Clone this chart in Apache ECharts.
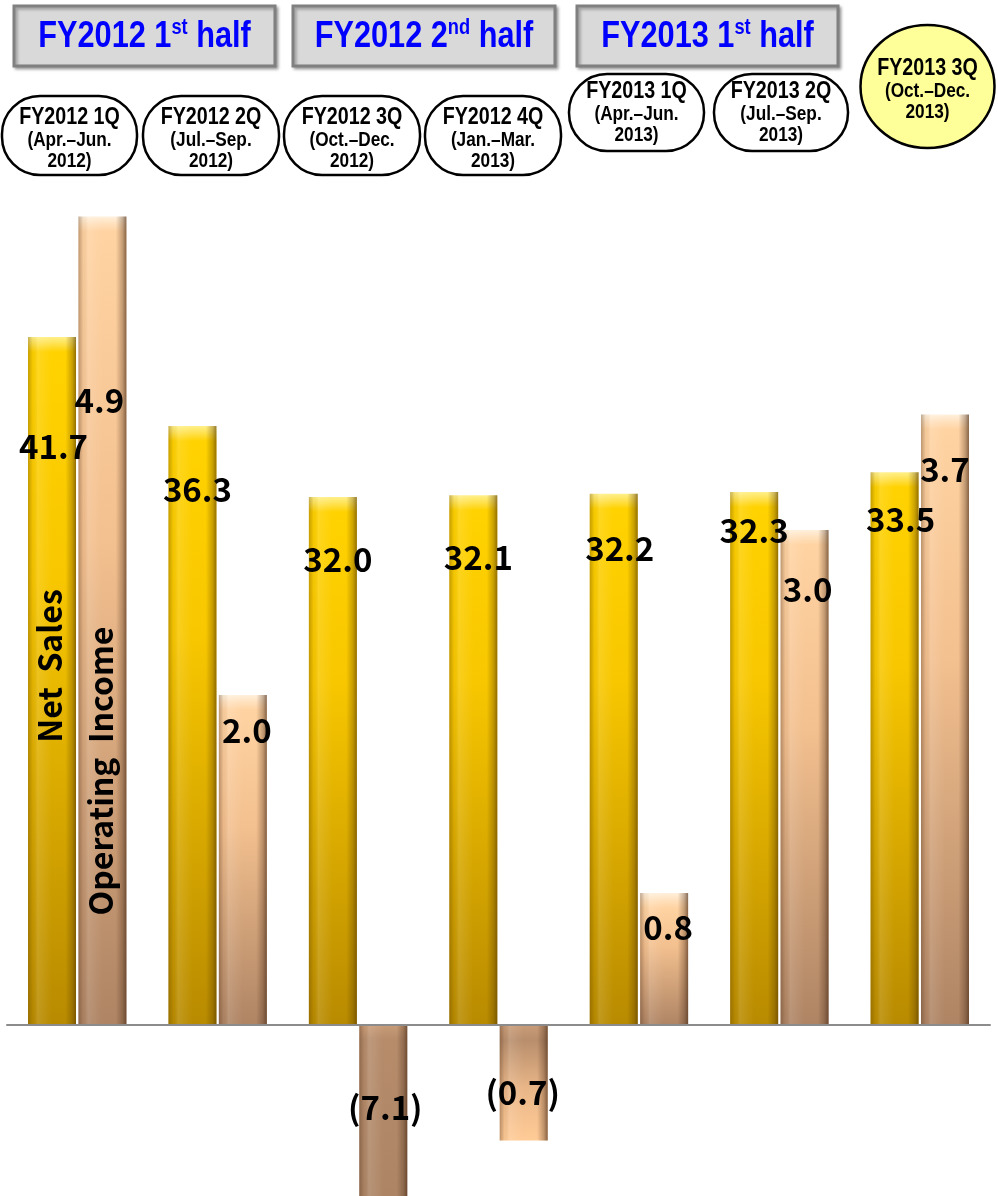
<!DOCTYPE html>
<html>
<head>
<meta charset="utf-8">
<script src="https://cdn.jsdelivr.net/npm/echarts@6/dist/echarts.min.js"></script>
<style>
html,body{margin:0;padding:0;background:#fff;}
#chart{width:998px;height:1196px;}
</style>
</head>
<body>
<div id="chart"></div>
<script>
// ---- data ----
const quarters = ['FY2012 1Q','FY2012 2Q','FY2012 3Q','FY2012 4Q','FY2013 1Q','FY2013 2Q','FY2013 3Q'];
const periodMonths = ['(Apr.–Jun.','(Jul.–Sep.','(Oct.–Dec.','(Jan.–Mar.','(Apr.–Jun.','(Jul.–Sep.','(Oct.–Dec.'];
const periodYears = ['2012)','2012)','2012)','2013)','2013)','2013)','2013)'];
const halfYears = ['FY2012','FY2012','FY2013'];
const halfNums = ['1','2','1'];
const halfSuffix = ['st','nd','st'];
const seriesNames = ['Net  Sales','Operating  Income'];
const netSales = [41.7, 36.3, 32.0, 32.1, 32.2, 32.3, 33.5];
const operatingIncome = [4.9, 2.0, -7.1, -0.7, 0.8, 3.0, 3.7];

// ---- layout (not data) ----
const NARROW = "'Liberation Sans',Arial,sans-serif";
const SQUEEZE = 0.82;
const JP = "'Noto Sans CJK JP','Noto Sans',sans-serif";
const GRID_TOP = 200, CH = 1196, GRID_H = CH - GRID_TOP;
const leftRange = [-10.364, 50];
const rightRange = [-1.0364, 5];
const nsLabelDx = [1.5, 5, 5, 5, 6, 0, 6];
const nsLabelDy = [93.5, 46.5, 45.5, 45.5, 38.5, 21.5, 30.5];
const oiLabelDx = [-3, 4, 2, -1, 4, 3, 0];
const oiLabelDy = [167.5, 18.5, 65.5, 50.5, 17.5, 42.5, 38.5];
const halfBoxes = [[14,6,261,60],[293,6,262,60],[577,6,261,60]];
const capsules = [[2,96,135,79,3],[143,96,136,79,3],[284,96,136,79,3],[425,96,136,79,3],[569,74,135,77,0],[714,74,134,77,0]];
const circle = [927.5, 86.5, 67, 61.5];

function fmt(v){ return v < 0 ? '(' + Math.abs(v).toFixed(1) + ')' : v.toFixed(1); }
function vgrad(stops){ return new echarts.graphic.LinearGradient(0,0,0,1, stops.map(s=>({offset:s[0], color:s[1]}))); }
function bevel(v, range){ const px = Math.abs(v) * GRID_H / (range[1]-range[0]); return Math.min(0.3, 15/px); }

const nsData = netSales.map(v => {
  const b = bevel(v, leftRange);
  return {value: v, itemStyle: {color: vgrad([[0,'#FFF08A'],[b*0.5,'#FFE04A'],[b,'#FFD200'],[0.35,'#F8C700'],[1,'#B88A00']])}};
});
const oiData = operatingIncome.map(v => {
  const b = bevel(v, rightRange);
  let c;
  if (v >= 0) c = vgrad([[0,'#FFF0DC'],[b*0.5,'#FFE0BC'],[b,'#FFD3A2'],[0.4,'#F3C08F'],[1,'#AE8464']]);
  else if (v < rightRange[0]) c = vgrad([[0,'#C89C78'],[0.08,'#B68C6B'],[1,'#AD8565']]);
  else c = vgrad([[0,'#C99C78'],[b,'#B88E6C'],[0.55,'#E9B688'],[1,'#FFCB96']]);
  return {value: v, itemStyle: {color: c}};
});
const sideShade = (dark) => new echarts.graphic.LinearGradient(0,0,1,0,[
  {offset:0, color:'rgba('+dark+',0.35)'},
  {offset:0.1, color:'rgba('+dark+',0.05)'},
  {offset:0.2, color:'rgba(255,255,255,0.12)'},
  {offset:0.5, color:'rgba(255,255,255,0)'},
  {offset:0.78, color:'rgba('+dark+',0)'},
  {offset:0.92, color:'rgba('+dark+',0.32)'},
  {offset:1, color:'rgba('+dark+',0.65)'}
]);
const labelBase = {show:true, position:'insideTop', distance:0, fontFamily:JP, fontSize:33, fontWeight:'bold', color:'#000'};
const nsOver = netSales.map((v,i) => ({value:v, label: Object.assign({}, labelBase, {offset:[nsLabelDx[i], nsLabelDy[i]], formatter: fmt(v)})}));
const oiOver = operatingIncome.map((v,i) => ({value:v, label: Object.assign({}, labelBase, {offset:[oiLabelDx[i], oiLabelDy[i]], formatter: fmt(v)})}));

// ---- graphics: header boxes & quarter capsules ----
const graphics = [];
halfBoxes.forEach((b,i) => {
  graphics.push({type:'rect', z:50, shape:{x:b[0], y:b[1], width:b[2], height:b[3]},
    style:{fill:'#D9D9D9', stroke:'#808080', lineWidth:3, shadowBlur:3, shadowOffsetX:2, shadowOffsetY:2, shadowColor:'rgba(0,0,0,0.3)'}});
  graphics.push({type:'text', z:51, x:b[0]+b[2]/2, y:b[1]+b[3]/2 + 1, scaleX:0.83,
    style:{text:'{a|' + halfYears[i] + ' ' + halfNums[i] + '}{s|' + halfSuffix[i] + '}{a| half}',
      align:'center', verticalAlign:'middle',
      rich:{a:{fontFamily:NARROW, fontWeight:'bold', fontSize:37, fill:'#0000FF', lineHeight:40},
            s:{fontFamily:NARROW, fontWeight:'bold', fontSize:22, fill:'#0000FF', lineHeight:24, verticalAlign:'top'}}}});
});
const capText = (i) => '{q|' + quarters[i] + '}\n{p|' + periodMonths[i] + '}\n{p|' + periodYears[i] + '}';
const capRich = {q:{fontFamily:NARROW, fontWeight:'bold', fontSize:24, fill:'#000', lineHeight:24},
                 p:{fontFamily:NARROW, fontWeight:'bold', fontSize:21, fill:'#000', lineHeight:21}};
capsules.forEach((c,i) => {
  graphics.push({type:'rect', z:50, shape:{x:c[0], y:c[1], width:c[2], height:c[3], r:38},
    style:{fill:'#fff', stroke:'#000', lineWidth:2.5}});
  graphics.push({type:'text', z:51, x:c[0]+c[2]/2, y:c[1]+c[3]/2 + c[4], scaleX:SQUEEZE,
    style:{text:capText(i), align:'center', verticalAlign:'middle', rich:capRich}});
});
graphics.push({type:'ellipse', z:50, shape:{cx:circle[0], cy:circle[1], rx:circle[2], ry:circle[3]},
  style:{fill:'#FFFF99', stroke:'#000', lineWidth:2.5}});
graphics.push({type:'text', z:51, x:circle[0], y:circle[1]+3, scaleX:SQUEEZE,
  style:{text:capText(6), align:'center', verticalAlign:'middle', rich:capRich}});
// rotated series names on the first bar pair
graphics.push({type:'text', z:100, x:49.5, y:666, rotation:Math.PI/2,
  style:{text:seriesNames[0], align:'center', verticalAlign:'middle', fontFamily:JP, fontWeight:'bold', fontSize:32, fill:'#000'}});
graphics.push({type:'text', z:100, x:101, y:771, rotation:Math.PI/2,
  style:{text:seriesNames[1], align:'center', verticalAlign:'middle', fontFamily:JP, fontWeight:'bold', fontSize:32, fill:'#000'}});

const chart = echarts.init(document.getElementById('chart'), null, {renderer:'canvas'});
chart.setOption({
  animation:false,
  backgroundColor:'#fff',
  grid:{left:7, right:8, top:GRID_TOP, bottom:0, containLabel:false},
  xAxis:[
    {type:'category', data:quarters, z:10, axisLabel:{show:false}, axisTick:{show:false},
     axisLine:{show:true, onZero:true, lineStyle:{color:'#8C8C8C', width:2}}},
    {type:'category', data:quarters, show:false}
  ],
  yAxis:[
    {type:'value', min:leftRange[0], max:leftRange[1], show:false, splitLine:{show:false}},
    {type:'value', min:rightRange[0], max:rightRange[1], show:false, splitLine:{show:false}}
  ],
  series:[
    {name:seriesNames[0], type:'bar', xAxisIndex:0, yAxisIndex:0, barWidth:48, barGap:'5%', z:2, data:nsData},
    {name:seriesNames[1], type:'bar', xAxisIndex:0, yAxisIndex:1, barWidth:48, barGap:'5%', z:2, data:oiData},
    {name:seriesNames[0]+' shade', type:'bar', xAxisIndex:1, yAxisIndex:0, barWidth:48, barGap:'5%', z:3,
     itemStyle:{color:sideShade('90,60,0')}, data:nsOver},
    {name:seriesNames[1]+' shade', type:'bar', xAxisIndex:1, yAxisIndex:1, barWidth:48, barGap:'5%', z:3,
     itemStyle:{color:sideShade('70,40,20')}, data:oiOver}
  ],
  graphic:graphics
});
</script>
</body>
</html>
